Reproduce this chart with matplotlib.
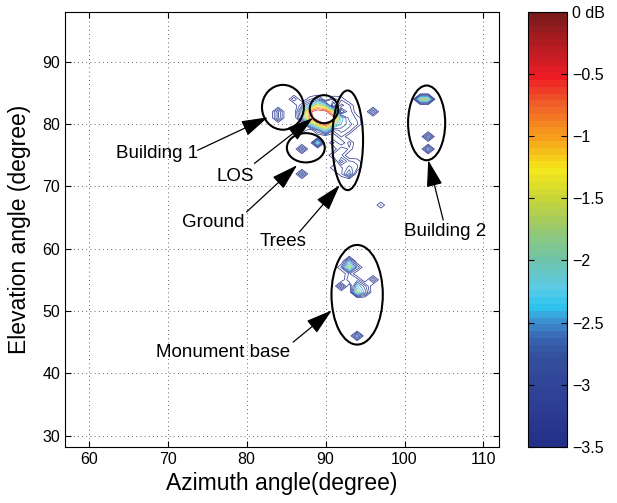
import numpy as np
import matplotlib
matplotlib.use("Agg")
import matplotlib.pyplot as plt
from matplotlib.colors import LinearSegmentedColormap, ListedColormap, Normalize
from matplotlib.patches import Ellipse
from matplotlib.cm import ScalarMappable

plt.rcParams['font.family'] = ['Liberation Sans', 'DejaVu Sans']

########## measured power peaks (dB, normalised to LOS) ##########
FLOOR_DB = -3.8

PEAK_AZ = [
    # Building 1
    86, 84, 84,
    # LOS
    88, 89, 90, 87, 88, 89, 90, 91, 87, 88, 89, 90, 91, 92,
    88, 89, 90, 91, 92, 89, 90, 91, 88, 89, 87,
    # Trees
    91, 92, 92, 93, 93, 93, 94, 93, 92, 92, 93, 92, 93, 92, 93,
    92, 91, 92, 93, 93, 92, 93, 94, 92, 91, 94, 91, 94, 91,
    # Ground
    87, 89, 87, 87,
    # isolated
    96, 97,
    # Building 2
    102, 103, 103, 103,
    # Monument base
    93, 93, 94, 92, 93, 92, 93, 94, 94, 94, 95, 95, 96, 94,
]
PEAK_EL = [
    84, 82, 81,
    83, 83, 83, 82, 82, 82, 82, 82, 81, 81, 81, 81, 81, 81,
    80, 80, 80, 80, 80, 79, 79, 79, 84, 84, 83,
    84, 84, 83, 83, 82, 81, 80, 80, 80, 79, 79, 78, 77, 76, 76,
    75, 75, 74, 74, 73, 73, 72, 73, 72, 77, 81, 79, 74, 73,
    76, 77, 72, 79,
    82, 67,
    84, 84, 78, 76,
    58, 57, 57, 57, 56, 54, 55, 55, 54, 53, 53, 54, 55, 46,
]
PEAK_DB = [
    -3.0, -2.7, -2.7,
    -2.4, -1.3, -2.0, -2.2, -0.6, -0.2, -0.3, -1.4, -2.5, -0.7, -0.15, 0.0, -0.3, -2.3,
    -2.2, -1.1, -0.4, -1.5, -2.8, -3.0, -2.0, -2.9, -3.3, -2.9, -3.0,
    -3.2, -3.3, -2.9, -3.2, -3.0, -3.1, -3.2, -2.9, -2.5, -2.9, -3.1, -3.2, -3.1, -3.0, -3.3,
    -3.2, -3.1, -2.6, -3.2, -2.9, -3.3, -2.4, -3.2, -3.3, -3.2, -3.3, -3.2, -3.3, -3.3,
    -2.6, -1.9, -2.6, -3.2,
    -2.7, -3.22,
    -1.6, -1.6, -2.4, -2.4,
    -2.4, -1.5, -3.0, -3.2, -3.2, -2.6, -3.0, -3.1, -2.2, -1.6, -2.6, -2.9, -2.8, -2.4,
]

LEVELS = [-3.5, -3.25, -3.0, -2.75, -2.5, -2.25, -2.0, -1.75, -1.5, -1.25, -1.0, -0.75, -0.5]
CBAR_TICKS = [-3.5, -3.0, -2.5, -2.0, -1.5, -1.0, -0.5, 0.0]
CBAR_LABELS = ['\u22123.5', '\u22123', '\u22122.5', '\u22122', '\u22121.5', '\u22121', '\u22120.5', '0 dB']

########## labelled scatterers ##########
GROUP_NAMES = ['Building 1', 'LOS', 'Ground', 'Trees', 'Building 2', 'Monument base']
GROUP_TEXT = [(68.6, 75.3), (78.6, 71.6), (75.8, 64.2), (84.6, 61.1), (105.1, 62.7), (77.0, 43.4)]
ARROW_FROM = [(73.8, 75.8), (81.0, 73.7), (80.0, 65.9), (86.7, 62.7), (104.9, 64.6), (85.9, 45.0)]
ARROW_TO = [(82.7, 81.1), (88.4, 81.0), (86.4, 73.4), (91.8, 70.2), (103.0, 74.2), (90.8, 50.1)]
ELL_CENTER = [(84.6, 82.7), (89.8, 82.4), (87.5, 76.2), (92.8, 77.4), (102.8, 80.2), (94.0, 52.6)]
ELL_SIZE = [(5.3, 7.2), (3.6, 4.5), (4.8, 4.7), (3.9, 16.0), (4.7, 12.0), (6.5, 16.0)]

########## colour map (printed jet, 64 steps) ##########
CMAP_COLORS = ['#23308a', '#2f3f95', '#334f9c', '#3a68b4', '#3d90cf', '#2ec4f0', '#5ccbe8',
               '#6ec4a8', '#98c870', '#c5d43a', '#f5e81a', '#f7a21b', '#f06428', '#ee1c24',
               '#b41c22', '#7a1a1a']
CMAP_POS = [0.0, 0.10, 0.20, 0.25, 0.285, 0.32, 0.36, 0.43, 0.50, 0.57, 0.64,
            0.71, 0.79, 0.857, 0.93, 1.0]
base = LinearSegmentedColormap.from_list('jet_print', list(zip(CMAP_POS, CMAP_COLORS)))
cmap = ListedColormap(base(np.linspace(0, 1, 64)))
norm = Normalize(-3.5, 0)

########## power grid on a 1 degree raster ##########
az = np.arange(55, 115)
el = np.arange(25, 101)
AZ, EL = np.meshgrid(az, el)
Z = np.full(AZ.shape, FLOOR_DB)
for a, e, p in zip(PEAK_AZ, PEAK_EL, PEAK_DB):
    Z[e - el[0], a - az[0]] = p

fig = plt.figure(figsize=(6.17, 5.03), dpi=100)
ax = fig.add_axes([0.1053, 0.1119, 0.7039, 0.8642])
cax = fig.add_axes([0.8558, 0.1119, 0.0632, 0.8642])

ax.contour(AZ, EL, Z, levels=LEVELS, cmap=cmap, norm=norm, linewidths=0.5)

for c, s in zip(ELL_CENTER, ELL_SIZE):
    ax.add_patch(Ellipse(c, s[0], s[1], fill=False, ec='black', lw=1.5, zorder=4))

for name, tp, a0, a1 in zip(GROUP_NAMES, GROUP_TEXT, ARROW_FROM, ARROW_TO):
    ax.text(tp[0], tp[1], name, ha='center', va='center', fontsize=13.5, zorder=5)
    ax.annotate('', xy=a1, xytext=a0,
                arrowprops=dict(arrowstyle='-|>,head_length=1.1,head_width=0.33',
                                color='black', lw=0.9, mutation_scale=15,
                                shrinkA=0, shrinkB=0), zorder=5)

ax.set_xlim(57, 112)
ax.set_ylim(28.2, 98)
ax.set_xticks([60, 70, 80, 90, 100, 110])
ax.set_yticks([30, 40, 50, 60, 70, 80, 90])
ax.tick_params(direction='in', top=True, right=True, labelsize=11.5, length=4)
ax.grid(True, linestyle=(0, (1, 4)), color='#333333', lw=0.6)
ax.set_xlabel('Azimuth angle(degree)', fontsize=16.5, labelpad=4)
ax.set_ylabel('Elevation angle (degree)', fontsize=16.5, labelpad=8)

cb = fig.colorbar(ScalarMappable(norm=norm, cmap=cmap), cax=cax)
cb.set_ticks(CBAR_TICKS)
cb.set_ticklabels(CBAR_LABELS)
cb.ax.tick_params(direction='in', left=True, right=True, labelsize=11.5, length=4)
cb.outline.set_linewidth(0.8)

fig.savefig('out.png', dpi=100)
